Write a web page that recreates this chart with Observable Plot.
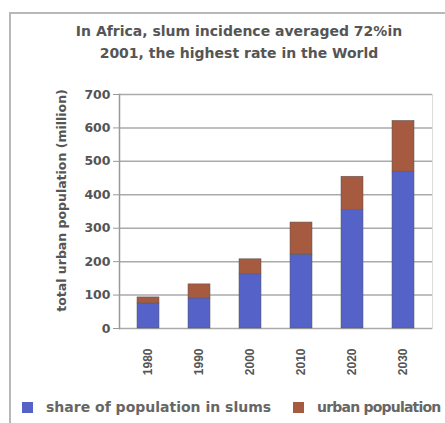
<!DOCTYPE html>
<html>
<head>
<meta charset="utf-8">
<script src="https://cdn.jsdelivr.net/npm/d3@7"></script>
<script src="https://cdn.jsdelivr.net/npm/@observablehq/plot@0.6"></script>
<style>
  html, body { margin: 0; padding: 0; background: #fff; width: 445px; height: 423px; overflow: hidden; }
  #wrap { position: relative; width: 445px; height: 423px; }
  #border { position: absolute; left: 9px; top: 12px; width: 480px; height: 440px; border: 2px solid #b8b8b8; box-sizing: border-box; }
  #title { position: absolute; left: 0; top: 20px; width: 478px; text-align: center; font: bold 14px "DejaVu Sans", sans-serif; color: #555; line-height: 22px; }
  #chart { position: absolute; left: 0; top: 70px; }
  #legend { position: absolute; left: 22px; top: 399px; font: bold 14px "DejaVu Sans", sans-serif; color: #666; white-space: nowrap; }
  .sw { display: inline-block; width: 11px; height: 11px; vertical-align: -1px; margin-right: 13px; }
</style>
</head>
<body>
<div id="wrap">
  <div id="border"></div>
  <div id="title">In Africa, slum incidence averaged 72%in<br>2001, the highest rate in the World</div>
  <div id="chart"></div>
  <div id="legend"></div>
</div>
<script>
const years = ["1980", "1990", "2000", "2010", "2020", "2030"];
const slumPop = [75, 90, 162, 221, 354, 469];
const otherUrbanPop = [18, 42, 45, 96, 100, 152];
const seriesNames = ["share of population in slums", "urban population"];
const seriesColors = ["#5563c9", "#a65a40"];
const yTicks = [0, 100, 200, 300, 400, 500, 600, 700];

const data = [];
years.forEach((y, i) => data.push({year: y, series: seriesNames[0], value: slumPop[i]}));
years.forEach((y, i) => data.push({year: y, series: seriesNames[1], value: otherUrbanPop[i]}));

const chart = Plot.plot({
  width: 445,
  height: 340,
  marginTop: 24,
  marginBottom: 82,
  marginLeft: 119,
  marginRight: 13,
  style: {background: "transparent"},
  x: {domain: years, paddingInner: 0.56, paddingOuter: 0.34},
  y: {domain: [0, 700]},
  color: {domain: seriesNames, range: seriesColors},
  marks: [
    Plot.gridY(yTicks, {stroke: "#aaa", strokeOpacity: 1, strokeWidth: 1.5}),
    Plot.frame({anchor: "left", stroke: "#999", strokeWidth: 1.5}),
    Plot.frame({anchor: "right", stroke: "#ddd", strokeWidth: 1}),
    Plot.barY(data, {x: "year", y: "value", fill: "series", stroke: "#555", strokeWidth: 0.5}),
    Plot.axisY({ticks: yTicks, tickSize: 6, tickPadding: 3, stroke: "#999",
      label: "total urban population (million)", labelAnchor: "center", labelOffset: 62, labelArrow: "none",
      fontFamily: "DejaVu Sans", fontWeight: "bold", fontSize: 12.5, fill: "#555"}),
    Plot.axisX({tickRotate: -90, tickSize: 0, tickPadding: 20, label: null,
      fontFamily: "Liberation Sans", fontWeight: "bold", fontSize: 12, fill: "#555"})
  ]
});
document.getElementById("chart").appendChild(chart);

// nudge the y-axis label up to match the reference
const yl = chart.querySelector('g[aria-label="y-axis label"]');
if (yl) {
  const t = yl.getAttribute("transform") || "";
  yl.setAttribute("transform", "translate(0,-11) " + t);
}

const legend = document.getElementById("legend");
seriesNames.forEach((name, i) => {
  const item = document.createElement("span");
  item.style.marginRight = i === 0 ? "22px" : "0";
  const sw = document.createElement("span");
  sw.className = "sw";
  sw.style.background = seriesColors[i];
  item.appendChild(sw);
  const txt = document.createElement("span");
  txt.textContent = name;
  if (i === 1) txt.style.letterSpacing = "-0.8px";
  item.appendChild(txt);
  legend.appendChild(item);
});
</script>
</body>
</html>
